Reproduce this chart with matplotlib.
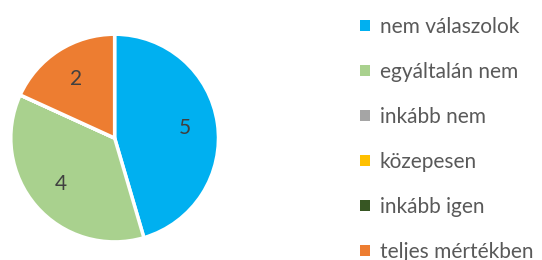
import matplotlib.pyplot as plt
from matplotlib.patches import Patch

categories = ['nem válaszolok', 'egyáltalán nem', 'inkább nem',
              'közepesen', 'inkább igen', 'teljes mértékben']
values = [5, 4, 0, 0, 0, 2]
colors = ['#00B0F0', '#A9D18E', '#A5A5A5', '#FFC000', '#375623', '#ED7D31']

plt.rcParams['font.family'] = ['Lato', 'DejaVu Sans']

fig = plt.figure(figsize=(5.42, 2.6), dpi=100)
ax = fig.add_axes([0.018, 0.065, 0.387, 0.808])

def fmt(pct):
    v = pct * sum(values) / 100.0
    return '%d' % round(v) if v > 0.5 else ''

wedges, texts, autotexts = ax.pie(values, colors=colors, startangle=90, counterclock=False,
                                  autopct=fmt, pctdistance=0.68,
                                  wedgeprops=dict(edgecolor='white', linewidth=2.5),
                                  textprops=dict(color='#404040', fontsize=15))
ax.set_xlim(-1.01, 1.01)
ax.set_ylim(-1.01, 1.01)
ax.set_aspect('equal')

handles = [Patch(facecolor=c, edgecolor='none') for c in colors]
fig.legend(handles, categories, loc='upper left', bbox_to_anchor=(0.645, 0.975),
           frameon=False, fontsize=15, labelcolor='#595959',
           handlelength=0.5, handleheight=0.5, handletextpad=0.45,
           labelspacing=1.2, borderaxespad=0.1)

fig.savefig('out.png', dpi=100)
